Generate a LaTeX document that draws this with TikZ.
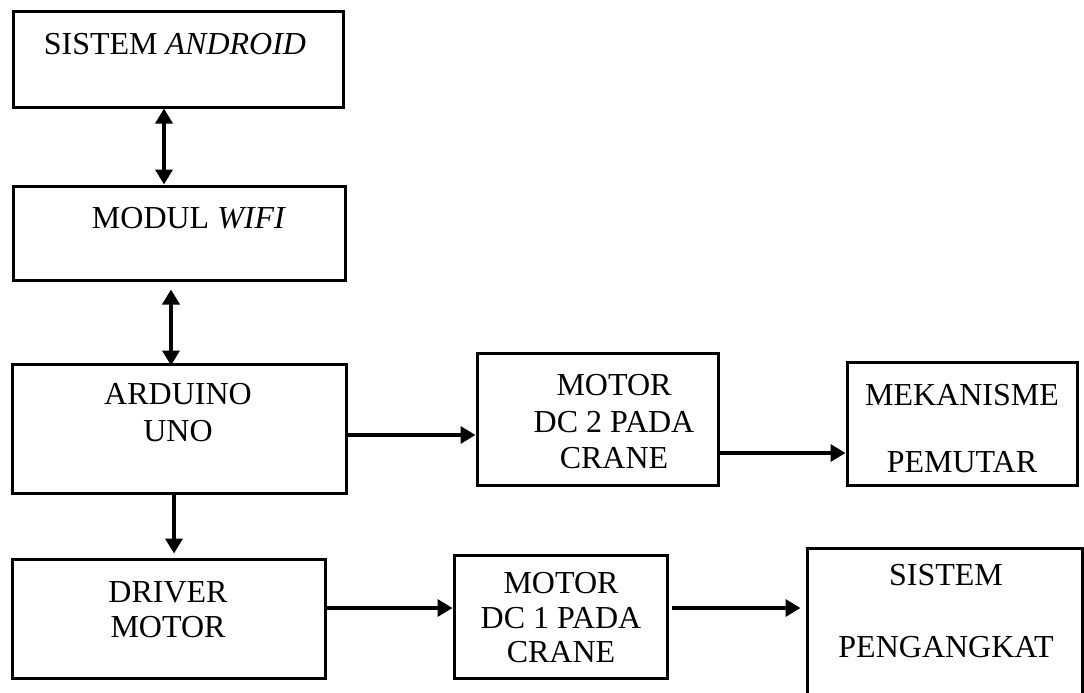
\documentclass[tikz,border=0pt]{standalone}
\usepackage{fontspec}
\setmainfont{Liberation Serif}
\usetikzlibrary{arrows.meta}
\tikzset{
  box/.style={draw=black, line width=3pt, inner sep=0pt, fill=none},
  txt/.style={anchor=base, inner sep=0pt, font=\fontsize{32}{37}\selectfont},
  conn/.style={line width=3.5pt, -{Triangle[length=15pt,width=17pt]}},
  dconn/.style={line width=3.5pt, {Triangle[length=15pt,width=17pt]}-{Triangle[length=15pt,width=17pt]}}
}
\begin{document}
\begin{tikzpicture}[x=1pt,y=-1pt]
\useasboundingbox (0,0) rectangle (1084,693);
\clip (0,0) rectangle (1084,693);
% boxes
\node[box, minimum width=330pt, minimum height=95pt] (android) at (178,59.5) {};
\node[box, minimum width=332pt, minimum height=94pt] (wifi) at (179,233) {};
\node[box, minimum width=334pt, minimum height=129pt] (arduino) at (179,428.5) {};
\node[box, minimum width=313pt, minimum height=119pt] (driver) at (168.5,618.5) {};
\node[box, minimum width=241pt, minimum height=132pt] (dc2) at (597.5,419) {};
\node[box, minimum width=230pt, minimum height=123pt] (mek) at (962,423.5) {};
\node[box, minimum width=213pt, minimum height=123pt] (dc1) at (560.5,616.5) {};
\node[box, minimum width=275pt, minimum height=172pt] (peng) at (944.5,634) {};
% texts
\node[txt] (t1) at (175,55) {SISTEM \textit{ANDROID}};
\node[txt] (t2) at (189,228) {MODUL \textit{WIFI}};
\node[txt] (t3) at (178,404) {ARDUINO};
\node[txt] (t4) at (178,441) {UNO};
\node[txt] (t5) at (168,602) {DRIVER};
\node[txt] (t6) at (168,637) {MOTOR};
\node[txt] (t7) at (614,395) {MOTOR};
\node[txt] (t8) at (614,432) {DC 2 PADA};
\node[txt] (t9) at (614,468) {CRANE};
\node[txt] (t10) at (962,405) {MEKANISME};
\node[txt] (t11) at (962,472) {PEMUTAR};
\node[txt] (t12) at (561,593) {MOTOR};
\node[txt] (t13) at (561,628) {DC 1 PADA};
\node[txt] (t14) at (561,662) {CRANE};
\node[txt] (t15) at (946,585) {SISTEM};
\node[txt] (t16) at (946,657) {PENGANGKAT};
% connectors
\draw[dconn] (164,0 |- android.south) -- (164,0 |- wifi.north);
\draw[dconn, shorten <=8pt, shorten >=-3pt] (171,0 |- wifi.south) -- (171,0 |- arduino.north);
\draw[conn, shorten >=4pt] (174,0 |- arduino.south) -- (174,0 |- driver.north);
\draw[conn] (arduino.east |- 0,435) -- (dc2.west |- 0,435);
\draw[conn] (dc2.east |- 0,453) -- (mek.west |- 0,453);
\draw[conn] (driver.east |- 0,608) -- (dc1.west |- 0,608);
\draw[conn, shorten <=3pt, shorten >=5pt] (dc1.east |- 0,608) -- (peng.west |- 0,608);
\end{tikzpicture}
\end{document}
